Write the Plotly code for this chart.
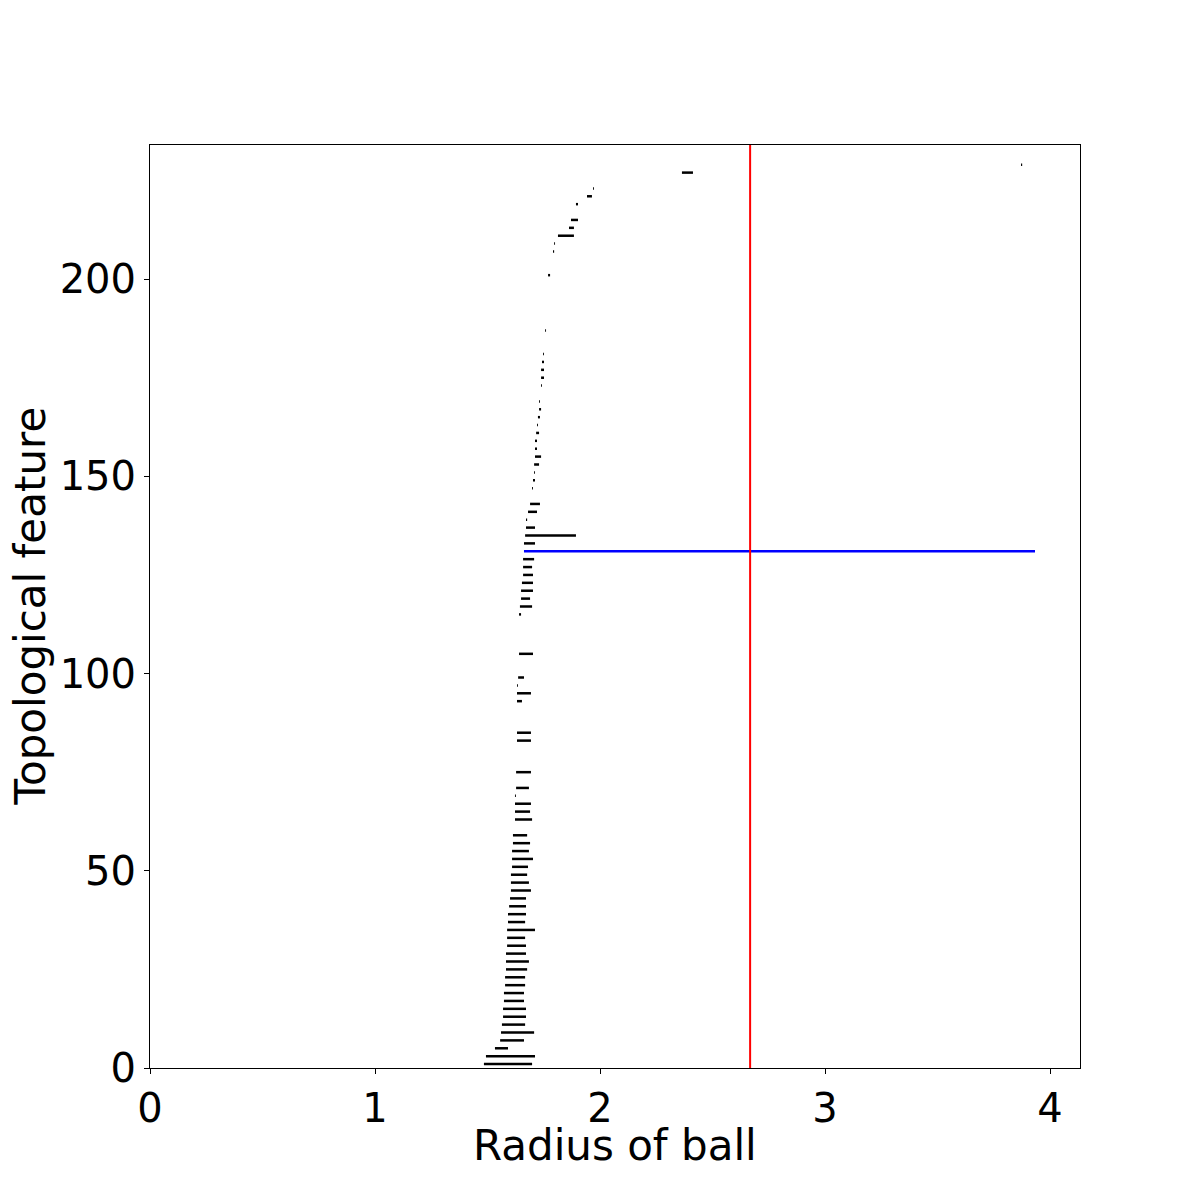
import plotly.graph_objects as go

# Barcode: feature index (y) with birth / death radius
feature_index = [1, 3, 5, 7, 9, 11, 13, 15, 17, 19, 21, 23, 25, 27, 29, 31, 33, 35, 37, 39,
                 41, 43, 45, 47, 49, 51, 53, 55, 57, 59, 63, 65, 67, 69, 71, 75, 83, 85, 93, 95,
                 97, 99, 105, 115, 117, 119, 121, 123, 125, 127, 129, 133, 135, 137, 139, 141, 143,
                 147, 149, 151, 153, 155, 157, 159, 161, 163, 165, 167, 169, 173, 175, 177, 179,
                 181, 187, 201, 207, 209, 211, 213, 215, 219, 221, 223, 227, 229]
birth = [1.484, 1.493, 1.533, 1.556, 1.560, 1.564, 1.569, 1.569, 1.573, 1.573, 1.578, 1.578,
         1.582, 1.582, 1.582, 1.587, 1.587, 1.587, 1.591, 1.591, 1.596, 1.600, 1.604, 1.604,
         1.604, 1.609, 1.609, 1.609, 1.613, 1.613, 1.622, 1.622, 1.622, 1.622, 1.627, 1.627,
         1.631, 1.631, 1.631, 1.631, 1.631, 1.636, 1.640, 1.640, 1.644, 1.649, 1.649, 1.653,
         1.658, 1.658, 1.658, 1.662, 1.667, 1.671, 1.671, 1.680, 1.689, 1.698, 1.702, 1.707,
         1.707, 1.711, 1.711, 1.711, 1.716, 1.720, 1.724, 1.729, 1.729, 1.738, 1.738, 1.738,
         1.742, 1.747, 1.756, 1.769, 1.791, 1.796, 1.813, 1.862, 1.871, 1.893, 1.942, 1.969,
         2.364, 3.871]
death = [1.698, 1.711, 1.591, 1.662, 1.707, 1.667, 1.671, 1.671, 1.662, 1.662, 1.667, 1.667,
         1.676, 1.684, 1.671, 1.671, 1.667, 1.711, 1.667, 1.671, 1.671, 1.671, 1.693, 1.684,
         1.676, 1.680, 1.702, 1.684, 1.689, 1.676, 1.698, 1.689, 1.693, 1.626, 1.684, 1.693,
         1.693, 1.693, 1.653, 1.693, 1.635, 1.662, 1.702, 1.649, 1.698, 1.689, 1.702, 1.702,
         1.702, 1.698, 1.707, 1.711, 1.893, 1.711, 1.676, 1.720, 1.733, 1.702, 1.711, 1.711,
         1.729, 1.738, 1.720, 1.720, 1.729, 1.724, 1.733, 1.738, 1.733, 1.742, 1.751, 1.751,
         1.751, 1.751, 1.760, 1.778, 1.796, 1.800, 1.884, 1.884, 1.902, 1.902, 1.964, 1.973,
         2.413, 3.876]

# Highlighted feature and chosen radius
highlight_index = 131
highlight_birth = 1.662
highlight_death = 3.933
threshold_radius = 2.667

FONT = "DejaVu Sans"
TICK_SIZE = 40
TITLE_SIZE = 42

xs, ys = [], []
for i, b, d in zip(feature_index, birth, death):
    xs += [b, d, None]
    ys += [i, i, None]

fig = go.Figure()

fig.add_trace(
    go.Scatter(
        x=xs,
        y=ys,
        mode="lines",
        line=dict(color="black", width=2.5),
        showlegend=False,
        hoverinfo="skip",
    )
)

fig.add_trace(
    go.Scatter(
        x=[highlight_birth, highlight_death],
        y=[highlight_index, highlight_index],
        mode="lines",
        line=dict(color="blue", width=2.5),
        showlegend=False,
    )
)

fig.add_trace(
    go.Scatter(
        x=[threshold_radius, threshold_radius],
        y=[0, 234],
        mode="lines",
        line=dict(color="red", width=2),
        showlegend=False,
    )
)

# axis titles placed by hand (matplotlib-like spacing)
fig.add_annotation(
    text="Radius of ball", xref="paper", yref="paper", x=0.5, y=-0.084,
    xanchor="center", yanchor="middle", showarrow=False,
    font=dict(family=FONT, size=TITLE_SIZE, color="black"),
)
fig.add_annotation(
    text="Topological feature", xref="paper", yref="paper", x=-0.129, y=0.5,
    xanchor="center", yanchor="middle", textangle=-90, showarrow=False,
    font=dict(family=FONT, size=TITLE_SIZE, color="black"),
)

fig.update_layout(
    width=1200,
    height=1200,
    paper_bgcolor="white",
    plot_bgcolor="white",
    margin=dict(l=142, r=128, t=137, b=140, autoexpand=False),
    font=dict(family=FONT, color="black", size=TICK_SIZE),
)

axis_style = dict(
    showgrid=False,
    zeroline=False,
    showline=True,
    linecolor="black",
    linewidth=1,
    mirror=True,
    ticks="outside",
    ticklen=5,
    tickcolor="black",
    automargin=False,
    tickfont=dict(family=FONT, size=TICK_SIZE, color="black"),
)

fig.update_xaxes(range=[0, 4.133], tickvals=[0, 1, 2, 3, 4], **axis_style)
fig.update_yaxes(range=[0, 234], tickvals=[0, 50, 100, 150, 200], **axis_style)

fig.write_html("out.html")
